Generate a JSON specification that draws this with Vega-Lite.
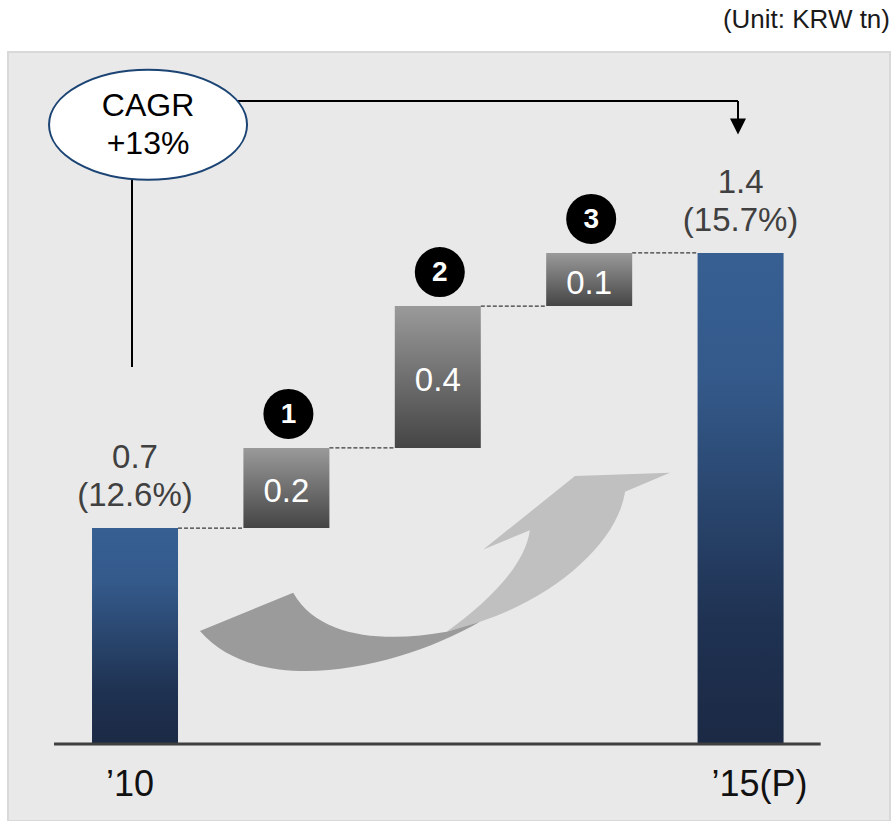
{
  "$schema": "https://vega.github.io/schema/vega-lite/v6.json",
  "width": 882,
  "height": 769,
  "autosize": {"type": "none"},
  "padding": {"left": 8, "top": 52, "right": 2, "bottom": 0},
  "background": "white",
  "title": {"text": "(Unit: KRW tn)", "anchor": "end", "frame": "group", "fontSize": 26, "fontWeight": "normal", "color": "#1a1a1a", "offset": 19},
  "config": {"font": "Liberation Sans", "view": {"fill": "#e9e9e9", "stroke": "#d9d9d9", "strokeWidth": 2}},
  "datasets": {
    "bars": [
      {"cat": "’10", "idx": 0, "next": 1, "start": 0, "end": 0.617, "kind": "total", "label": "0.7\n(12.6%)"},
      {"cat": "Step 1", "idx": 1, "next": 2, "start": 0.617, "end": 0.846, "kind": "step", "label": "0.2", "step": "1"},
      {"cat": "Step 2", "idx": 2, "next": 3, "start": 0.846, "end": 1.251, "kind": "step", "label": "0.4", "step": "2"},
      {"cat": "Step 3", "idx": 3, "next": 4, "start": 1.251, "end": 1.403, "kind": "step", "label": "0.1", "step": "3"},
      {"cat": "’15(P)", "idx": 4, "start": 0, "end": 1.403, "kind": "total", "label": "1.4\n(15.7%)"}
    ]
  },
  "encoding": {},
  "layer": [
    {
      "data": {"values": [{}]},
      "mark": {"type": "point", "shape": "M0.05,0.243C0.234,0.109,0.383,-0.04,0.404,-0.189L0.206,-0.107L0.596,-0.419L1,-0.433L0.809,-0.352C0.779,-0.147,0.532,0.087,0.192,0.201Z", "size": 220900, "filled": true, "fill": "#c0c0c0", "opacity": 1, "strokeWidth": 0},
      "encoding": {
        "x": {"datum": 1.981, "type": "quantitative", "scale": {"domain": [-0.839, 4.987], "nice": false, "zero": false, "padding": 0}, "axis": null},
        "y": {"datum": 0.484, "type": "quantitative", "scale": {"domain": [-0.22, 1.977], "nice": false, "zero": false, "padding": 0}, "axis": null}
      }
    },
    {
      "data": {"values": [{}]},
      "mark": {"type": "point", "shape": "M-1,0.24L-0.603,0.077C-0.489,0.279,-0.192,0.287,0.05,0.243L0.192,0.201C-0.149,0.398,-0.745,0.534,-1,0.24Z", "size": 220900, "filled": true, "fill": "#9b9b9b", "opacity": 1, "strokeWidth": 0},
      "encoding": {"x": {"datum": 1.981, "type": "quantitative"}, "y": {"datum": 0.484, "type": "quantitative"}}
    },
    {
      "data": {"name": "bars"},
      "transform": [{"filter": "isValid(datum.next)"}],
      "mark": {"type": "rule", "color": "#3a3a3a", "strokeWidth": 1.2, "strokeDash": [4, 2], "xOffset": 43, "x2Offset": -43},
      "encoding": {
        "x": {"field": "idx", "type": "quantitative"},
        "x2": {"field": "next"},
        "y": {"field": "end", "type": "quantitative"}
      }
    },
    {
      "data": {"name": "bars"},
      "transform": [{"filter": "datum.kind == 'total'"}],
      "mark": {"type": "bar", "orient": "vertical", "width": 86, "stroke": null, "fill": {"gradient": "linear", "x1": 0, "y1": 0, "x2": 0, "y2": 1, "stops": [{"offset": 0, "color": "#375f92"}, {"offset": 0.25, "color": "#345a8b"}, {"offset": 0.75, "color": "#1f3252"}, {"offset": 1, "color": "#1b2944"}]}},
      "encoding": {
        "x": {"field": "idx", "type": "quantitative"},
        "y": {"field": "start", "type": "quantitative"},
        "y2": {"field": "end"}
      }
    },
    {
      "data": {"name": "bars"},
      "transform": [{"filter": "datum.kind == 'step'"}],
      "mark": {"type": "bar", "orient": "vertical", "width": 86, "stroke": null, "fill": {"gradient": "linear", "x1": 0, "y1": 0, "x2": 0, "y2": 1, "stops": [{"offset": 0, "color": "#9a9a9a"}, {"offset": 1, "color": "#454545"}]}},
      "encoding": {
        "x": {"field": "idx", "type": "quantitative"},
        "y": {"field": "start", "type": "quantitative"},
        "y2": {"field": "end"}
      }
    },
    {
      "data": {"values": [{}]},
      "mark": {"type": "rule", "color": "#3f3f3f", "strokeWidth": 3},
      "encoding": {"x": {"datum": -0.535, "type": "quantitative"}, "x2": {"datum": 4.529}, "y": {"datum": 0, "type": "quantitative"}}
    },
    {
      "data": {"name": "bars"},
      "transform": [{"filter": "datum.kind == 'total'"}],
      "mark": {"type": "text", "fontSize": 33, "lineHeight": 38, "lineBreak": "\n", "color": "#404040", "align": "center", "baseline": "bottom", "dy": -53},
      "encoding": {
        "x": {"field": "idx", "type": "quantitative"},
        "y": {"field": "end", "type": "quantitative"},
        "text": {"field": "label"}
      }
    },
    {
      "data": {"name": "bars"},
      "transform": [{"filter": "datum.kind == 'step'"}, {"calculate": "(datum.start + datum.end) / 2", "as": "mid"}],
      "mark": {"type": "text", "fontSize": 33, "color": "white", "align": "center", "baseline": "middle", "dy": 4},
      "encoding": {
        "x": {"field": "idx", "type": "quantitative"},
        "y": {"field": "mid", "type": "quantitative"},
        "text": {"field": "label"}
      }
    },
    {
      "data": {"name": "bars"},
      "transform": [{"filter": "datum.kind == 'step'"}],
      "mark": {"type": "point", "filled": true, "color": "black", "opacity": 1, "size": 2500, "yOffset": -34, "xOffset": 2},
      "encoding": {
        "x": {"field": "idx", "type": "quantitative"},
        "y": {"field": "end", "type": "quantitative"}
      }
    },
    {
      "data": {"name": "bars"},
      "transform": [{"filter": "datum.kind == 'step'"}],
      "mark": {"type": "text", "fontSize": 28, "fontWeight": "bold", "color": "white", "align": "center", "baseline": "middle", "yOffset": -33, "xOffset": 2},
      "encoding": {
        "x": {"field": "idx", "type": "quantitative"},
        "y": {"field": "end", "type": "quantitative"},
        "text": {"field": "step"}
      }
    },
    {
      "data": {"name": "bars"},
      "transform": [{"filter": "datum.kind == 'total'"}],
      "mark": {"type": "text", "fontSize": 36, "color": "#111111", "align": "left", "baseline": "middle", "dx": -29},
      "encoding": {
        "x": {"field": "idx", "type": "quantitative"},
        "y": {"datum": -0.117, "type": "quantitative"},
        "text": {"field": "cat"}
      }
    },
    {
      "data": {"values": [{}]},
      "mark": {"type": "rule", "color": "black", "strokeWidth": 2},
      "encoding": {"x": {"datum": -0.02, "type": "quantitative"}, "y": {"datum": 1.077, "type": "quantitative"}, "y2": {"datum": 1.769}}
    },
    {
      "data": {"values": [{}]},
      "mark": {"type": "rule", "color": "black", "strokeWidth": 2},
      "encoding": {"x": {"datum": 0.086, "type": "quantitative"}, "x2": {"datum": 3.983}, "y": {"datum": 1.837, "type": "quantitative"}}
    },
    {
      "data": {"values": [{}]},
      "mark": {"type": "rule", "color": "black", "strokeWidth": 2},
      "encoding": {"x": {"datum": 3.983, "type": "quantitative"}, "y": {"datum": 1.837, "type": "quantitative"}, "y2": {"datum": 1.785}}
    },
    {
      "data": {"values": [{}]},
      "mark": {"type": "point", "shape": "M-1,-1L1,-1L0,1Z", "size": 256, "filled": true, "color": "black", "opacity": 1},
      "encoding": {"x": {"datum": 3.983, "type": "quantitative"}, "y": {"datum": 1.764, "type": "quantitative"}}
    },
    {
      "data": {"values": [{}]},
      "mark": {"type": "point", "shape": "M-1,0A1,0.556,0,1,0,1,0A1,0.556,0,1,0,-1,0Z", "size": 39204, "filled": true, "fill": "white", "stroke": "#1b4474", "strokeWidth": 2, "opacity": 1},
      "encoding": {"x": {"datum": 0.086, "type": "quantitative"}, "y": {"datum": 1.769, "type": "quantitative"}}
    },
    {
      "data": {"values": [{}]},
      "mark": {"type": "text", "text": "CAGR\n+13%", "lineBreak": "\n", "fontSize": 32, "lineHeight": 38, "color": "black", "align": "center", "baseline": "middle", "dy": -19},
      "encoding": {"x": {"datum": 0.086, "type": "quantitative"}, "y": {"datum": 1.769, "type": "quantitative"}}
    }
  ]
}
